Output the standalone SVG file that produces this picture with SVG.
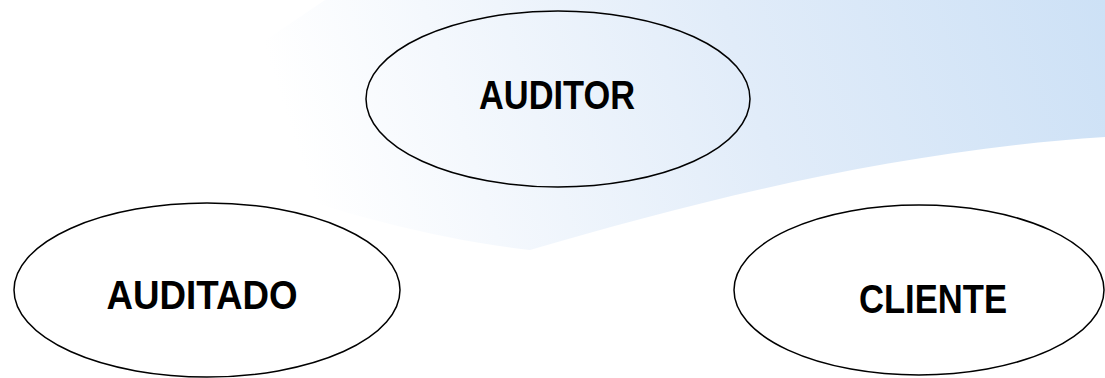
<svg xmlns="http://www.w3.org/2000/svg" width="1105" height="378" viewBox="0 0 1105 378">
<defs>
<linearGradient id="bg" gradientUnits="userSpaceOnUse" x1="1105" y1="0" x2="330" y2="250">
<stop offset="0" stop-color="#cde1f6"/>
<stop offset="0.45" stop-color="#e1ecf9"/>
<stop offset="0.8" stop-color="#f4f8fd"/>
<stop offset="1" stop-color="#ffffff"/>
</linearGradient>
<style>
.node ellipse{fill:none;stroke:#000;stroke-width:1.5}
.node text{font-family:"Liberation Sans",Arial,sans-serif;font-weight:bold;font-size:40px;fill:#000;text-anchor:middle}
</style>
</defs>
<rect width="1105" height="378" fill="#fff"/>
<path d="M325 0 L1105 0 L1105 137 C900 150 700 200 530 250 C400 235 230 185 140 125 Z" fill="url(#bg)"/>
<g id="connectors"/>
<g id="auditor" class="node">
<ellipse cx="558" cy="99" rx="192" ry="88"/>
<text x="557" y="109" textLength="156" lengthAdjust="spacingAndGlyphs">AUDITOR</text>
</g>
<g id="auditado" class="node">
<ellipse cx="207" cy="290" rx="193" ry="87"/>
<text x="202" y="309" textLength="191" lengthAdjust="spacingAndGlyphs">AUDITADO</text>
</g>
<g id="cliente" class="node">
<ellipse cx="919" cy="290" rx="185" ry="85"/>
<text x="933" y="313" textLength="148" lengthAdjust="spacingAndGlyphs">CLIENTE</text>
</g>
</svg>
